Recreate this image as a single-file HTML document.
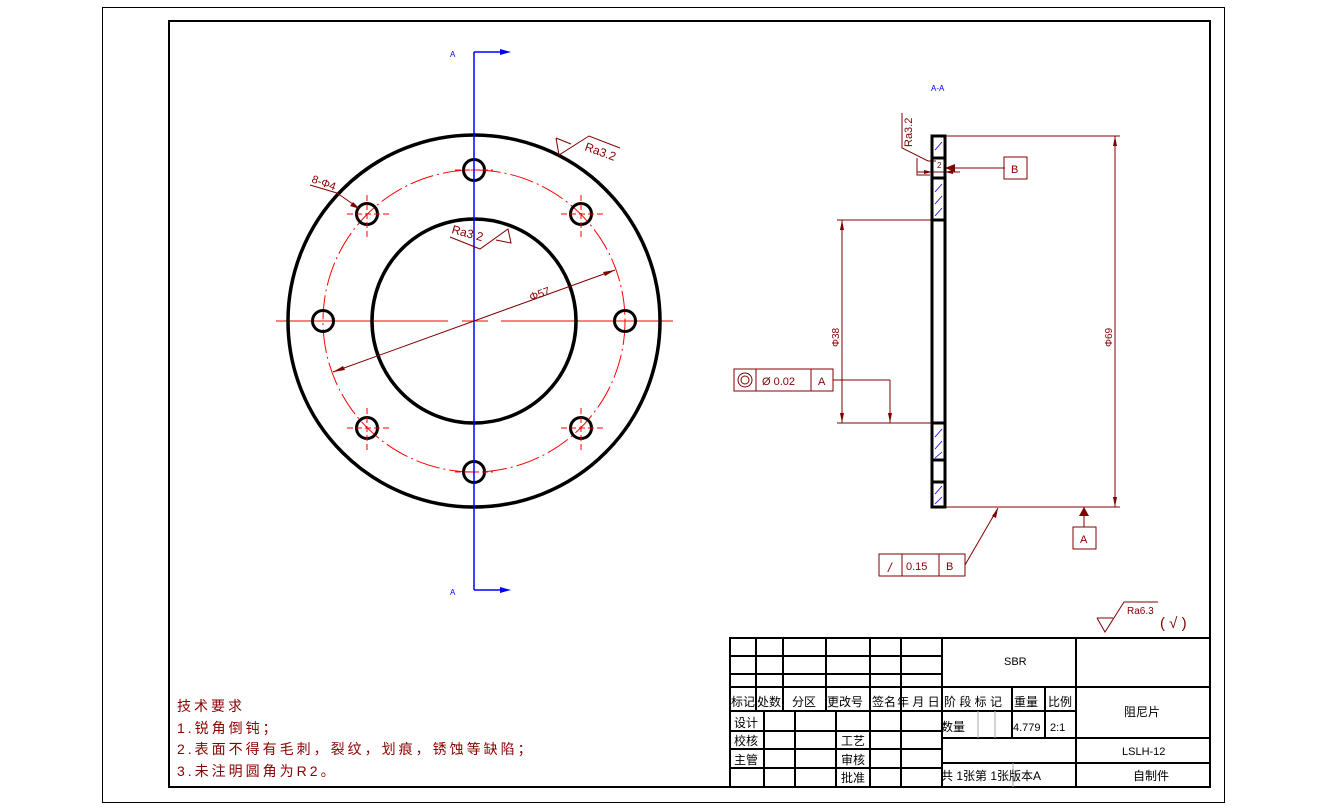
<!DOCTYPE html>
<html><head><meta charset="utf-8"><style>
html,body{margin:0;padding:0;background:#fff;}
svg{display:block;}
text{font-family:"Liberation Sans","Noto Sans CJK SC",sans-serif;}
</style></head><body>
<svg width="1327" height="809" viewBox="0 0 1327 809" xmlns="http://www.w3.org/2000/svg">
<rect x="0" y="0" width="1327" height="809" fill="#fff"/>
<rect x="102.5" y="7.5" width="1122" height="795" fill="none" stroke="#000" stroke-width="1"/>
<rect x="169" y="21" width="1041" height="766" fill="none" stroke="#000" stroke-width="2"/>

<!-- Front view -->
<g>
 <circle cx="474" cy="321" r="151" fill="none" stroke="#f00" stroke-width="1" stroke-dasharray="24,4,2,4"/>
 <line x1="276" y1="321" x2="448" y2="321" stroke="#f00" stroke-width="1"/>
 <line x1="462" y1="321" x2="488" y2="321" stroke="#f00" stroke-width="1"/>
 <line x1="501" y1="321" x2="673" y2="321" stroke="#f00" stroke-width="1"/>
 <circle cx="474" cy="321" r="186" fill="none" stroke="#000" stroke-width="3.5"/>
 <circle cx="474" cy="321" r="102" fill="none" stroke="#000" stroke-width="3.5"/>
 <g fill="none" stroke="#000" stroke-width="3">
  <circle cx="474" cy="170" r="10.5"/><circle cx="474" cy="472" r="10.5"/>
  <circle cx="323" cy="321" r="10.5"/><circle cx="625" cy="321" r="10.5"/>
  <circle cx="367" cy="214" r="10.5"/><circle cx="581" cy="214" r="10.5"/>
  <circle cx="367" cy="428" r="10.5"/><circle cx="581" cy="428" r="10.5"/>
 </g>
 <g stroke="#f00" stroke-width="1" stroke-dasharray="6,3">
  <line x1="347" y1="214" x2="392" y2="214"/><line x1="367" y1="195" x2="367" y2="238"/>
  <line x1="561" y1="214" x2="604" y2="214"/><line x1="581" y1="195" x2="581" y2="238"/>
  <line x1="347" y1="428" x2="392" y2="428"/><line x1="367" y1="408" x2="367" y2="452"/>
  <line x1="561" y1="428" x2="604" y2="428"/><line x1="581" y1="408" x2="581" y2="452"/>
  <line x1="455" y1="170" x2="493" y2="170"/><line x1="455" y1="472" x2="493" y2="472"/>
 </g>
 <line x1="474" y1="52" x2="474" y2="590" stroke="#00f" stroke-width="1.5"/>
 <line x1="474" y1="52" x2="505" y2="52" stroke="#00f" stroke-width="1.5"/>
 <line x1="474" y1="590" x2="505" y2="590" stroke="#00f" stroke-width="1.5"/>
 <polygon points="511,52 500,49 500,55" fill="#00f"/>
 <polygon points="511,590 500,587 500,593" fill="#00f"/>
 <text x="450" y="57" font-size="8" fill="#00f">A</text>
 <text x="450" y="595" font-size="8" fill="#00f">A</text>
 <line x1="333" y1="372" x2="615" y2="270" stroke="#800000" stroke-width="1"/>
 <polygon points="333,372 343,366 345,370" fill="#800000"/>
 <polygon points="615,270 605,276 603,272" fill="#800000"/>
 <text x="531" y="301" font-size="11" fill="#800000" transform="rotate(-20 531 301)">Φ57</text>
 <line x1="310" y1="185" x2="337" y2="193" stroke="#800000"/>
 <line x1="337" y1="193" x2="360" y2="209" stroke="#800000"/>
 <polygon points="360,209 350,206 353,202" fill="#800000"/>
 <text x="311" y="182" font-size="11" fill="#800000" transform="rotate(20 311 182)">8-Φ4</text>
 <polyline points="556,138 559,155 589,136 620,148" fill="none" stroke="#800000"/>
 <line x1="556" y1="138" x2="571" y2="144" stroke="#800000"/>
 <text x="584" y="150" font-size="12" fill="#800000" transform="rotate(20 584 150)">Ra3.2</text>
 <polyline points="450,237 480,249 508,229 511,243 496,240" fill="none" stroke="#800000"/>
 <text x="451" y="233" font-size="12" fill="#800000" transform="rotate(15 451 233)">Ra3.2</text>
</g>

<!-- Section view -->
<text x="931" y="91" font-size="8" fill="#00f">A-A</text>
<g stroke="#800000" stroke-width="1" fill="none">
 <line x1="945" y1="136" x2="1120" y2="136"/>
 <line x1="945" y1="507" x2="1120" y2="507"/>
 <line x1="1115" y1="136" x2="1115" y2="507"/>
 <line x1="837" y1="220" x2="932" y2="220"/>
 <line x1="837" y1="423" x2="932" y2="423"/>
 <line x1="842" y1="220" x2="842" y2="423"/>
 <line x1="833" y1="380" x2="890" y2="380"/>
 <line x1="890" y1="380" x2="890" y2="423"/>
 <rect x="734" y="369" width="99" height="22"/>
 <line x1="756" y1="369" x2="756" y2="391"/><line x1="811" y1="369" x2="811" y2="391"/>
 <circle cx="745" cy="380" r="7"/><circle cx="745" cy="380" r="4"/>
 <line x1="945" y1="168" x2="1005" y2="168"/>
 <rect x="1004" y="157" width="23" height="22"/>
 <line x1="1084" y1="507" x2="1084" y2="527"/>
 <rect x="1073" y="527" width="23" height="22"/>
 <rect x="879" y="554" width="86" height="22"/>
 <line x1="902" y1="554" x2="902" y2="576"/><line x1="939" y1="554" x2="939" y2="576"/>
 <line x1="965" y1="565" x2="998" y2="508"/>
 <polyline points="902,113 902,148 928,161 936,161"/>
 <polyline points="917,158 917,175 930,175"/>
 <line x1="917" y1="172" x2="960" y2="172"/>
</g>
<g fill="#800000">
 <polygon points="1115,136 1113,146 1117,146"/><polygon points="1115,507 1113,497 1117,497"/>
 <polygon points="842,220 840,230 844,230"/><polygon points="842,423 840,413 844,413"/>
 <polygon points="890,423 888,413 892,413"/>
 <polygon points="945,168 955,164 955,172"/>
 <polygon points="1084,507 1079,516 1089,516"/>
 <polygon points="998,508 992,516 996,518"/>
 <polygon points="932,172 924,170 924,174"/><polygon points="945,172 953,170 953,174"/>
</g>
<g font-size="11" fill="#800000">
 <text x="1011" y="173">B</text><text x="1080" y="543">A</text>
 <text x="818" y="385">A</text>
 <text x="762" y="385">Ø  0.02</text>
 <text x="906" y="570">0.15</text><text x="946" y="570">B</text>
 <text x="888" y="572" font-size="13" font-style="italic">/</text>
 <text x="937" y="168" font-size="8">2</text>
 <text x="912" y="147" font-size="11" transform="rotate(-90 912 147)">Ra3.2</text>
 <text x="839" y="347" font-size="10" transform="rotate(-90 839 347)">Φ38</text>
 <text x="1112" y="347" font-size="10" transform="rotate(-90 1112 347)">Φ69</text>
</g>
<rect x="932" y="136" width="13" height="371" fill="none" stroke="#000" stroke-width="3"/>
<g stroke="#000" stroke-width="3">
 <line x1="932" y1="158" x2="945" y2="158"/><line x1="932" y1="178" x2="945" y2="178"/>
 <line x1="932" y1="220" x2="945" y2="220"/><line x1="932" y1="423" x2="945" y2="423"/>
 <line x1="932" y1="460" x2="945" y2="460"/><line x1="932" y1="482" x2="945" y2="482"/>
</g>
<g stroke="#00f" stroke-width="0.8">
 <line x1="935" y1="150" x2="942" y2="142"/>
 <line x1="935" y1="192" x2="942" y2="184"/><line x1="935" y1="204" x2="942" y2="196"/><line x1="935" y1="216" x2="942" y2="208"/>
 <line x1="935" y1="437" x2="942" y2="429"/><line x1="935" y1="449" x2="942" y2="441"/><line x1="935" y1="458" x2="942" y2="452"/>
 <line x1="935" y1="494" x2="942" y2="486"/><line x1="935" y1="504" x2="942" y2="497"/>
</g>

<g stroke="#800000" fill="none" stroke-width="1">
 <polyline points="1097,618 1113,618"/>
 <polyline points="1097,618 1105,632 1124,602 1158,602"/>
</g>
<text x="1127" y="614" font-size="10" fill="#800000">Ra6.3</text>
<text x="1160" y="628" font-size="15" fill="#800000">( √ )</text>

<g font-size="14" fill="#8b0000" letter-spacing="3">
 <text x="177" y="711">技术要求</text>
 <text x="177" y="733">1.锐角倒钝；</text>
 <text x="177" y="754">2.表面不得有毛刺，裂纹，划痕，锈蚀等缺陷；</text>
 <text x="177" y="776">3.未注明圆角为R2。</text>
</g>

<g stroke="#000" stroke-width="2" fill="none">
 <rect x="730" y="638" width="480" height="149"/>
 <line x1="730" y1="656" x2="942" y2="656"/>
 <line x1="730" y1="674" x2="942" y2="674"/>
 <line x1="730" y1="687" x2="1210" y2="687"/>
 <line x1="730" y1="711" x2="1076" y2="711"/>
 <line x1="730" y1="731" x2="942" y2="731"/>
 <line x1="730" y1="749" x2="942" y2="749"/>
 <line x1="730" y1="768" x2="942" y2="768"/>
 <line x1="942" y1="738" x2="1210" y2="738"/>
 <line x1="942" y1="763" x2="1210" y2="763"/>
 <line x1="756" y1="638" x2="756" y2="711"/>
 <line x1="783" y1="638" x2="783" y2="711"/>
 <line x1="826" y1="638" x2="826" y2="711"/>
 <line x1="870" y1="638" x2="870" y2="787"/>
 <line x1="901" y1="638" x2="901" y2="787"/>
 <line x1="942" y1="638" x2="942" y2="787"/>
 <line x1="764" y1="711" x2="764" y2="787"/>
 <line x1="795" y1="711" x2="795" y2="787"/>
 <line x1="836" y1="711" x2="836" y2="787"/>
 <line x1="1012" y1="687" x2="1012" y2="738"/>
 <line x1="1045" y1="687" x2="1045" y2="738"/>
 <line x1="1076" y1="638" x2="1076" y2="787"/>
</g>
<g stroke="#aaa" stroke-width="1">
 <line x1="978" y1="711" x2="978" y2="738"/><line x1="995" y1="711" x2="995" y2="738"/>
 <line x1="1013" y1="763" x2="1013" y2="787"/>
</g>
<g font-size="12" fill="#000">
 <text x="731" y="706">标记</text><text x="757" y="706">处数</text><text x="792" y="706">分区</text>
 <text x="827" y="706">更改号</text><text x="872" y="706">签名</text><text x="897" y="706">年 月 日</text>
 <text x="944" y="706">阶 段 标 记</text><text x="1014" y="706">重量</text><text x="1048" y="706">比例</text>
 <text x="734" y="727">设计</text><text x="734" y="745">校核</text><text x="734" y="764">主管</text>
 <text x="841" y="745">工艺</text><text x="841" y="764">审核</text><text x="841" y="782">批准</text>
 <text x="941" y="731">数量</text>
 <text x="1013" y="731" font-size="11">4.779</text><text x="1050" y="731" font-size="11">2:1</text>
 <text x="1004" y="665" font-size="11">SBR</text>
 <text x="1124" y="716">阻尼片</text>
 <text x="1122" y="755" font-size="11">LSLH-12</text>
 <text x="1133" y="780">自制件</text>
 <text x="941" y="780">共 1张第 1张版本A</text>
</g>
</svg>
</body></html>
